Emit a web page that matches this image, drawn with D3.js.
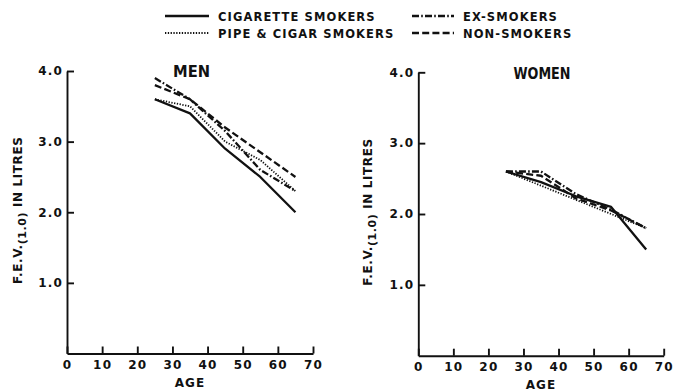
<!DOCTYPE html>
<html>
<head>
<meta charset="utf-8">
<script src="https://cdn.jsdelivr.net/npm/d3@7/dist/d3.min.js"></script>
<style>
  html, body { margin: 0; padding: 0; background: #fff; }
  svg { display: block; }
  text { font-family: "DejaVu Sans", sans-serif; font-weight: bold; fill: #111; }
</style>
</head>
<body>
<svg id="chart" width="675" height="392"></svg>
<script>
// Ages at which mean FEV(1.0) was measured
const ages = [25, 35, 45, 55, 65];

// Smoking groups, in legend order
const groups = ["CIGARETTE SMOKERS", "PIPE & CIGAR SMOKERS", "EX-SMOKERS", "NON-SMOKERS"];

// Mean FEV(1.0) in litres, men
const menCigarette = [3.6, 3.4, 2.9, 2.5, 2.0];
const menPipeCigar = [3.6, 3.5, 3.0, 2.74, 2.3];
const menEx        = [3.9, 3.6, 3.15, 2.6, 2.3];
const menNon       = [3.8, 3.6, 3.2, 2.85, 2.5];

// Mean FEV(1.0) in litres, women
const womenCigarette = [2.6, 2.45, 2.25, 2.1, 1.5];
const womenPipeCigar = [2.6, 2.4, 2.2, 2.0, 1.8];
const womenEx        = [2.6, 2.6, 2.28, 2.06, 1.8];
const womenNon       = [2.6, 2.54, 2.22, 2.05, 1.8];

// Axis ticks
const ageTicks = [0, 10, 20, 30, 40, 50, 60, 70];
const fevTicks = [1, 2, 3, 4];

// Line style per group
const styles = {
  "CIGARETTE SMOKERS":    { dash: null,            width: 2.3 },
  "PIPE & CIGAR SMOKERS": { dash: "1.3,1.5",       width: 1.8 },
  "EX-SMOKERS":           { dash: "7,2.2,1.6,2.2", width: 2.3 },
  "NON-SMOKERS":          { dash: "7,3.2",         width: 2.3 }
};

const panels = [
  { title: "MEN",   x0: 67,    x1: 313,   yBottom: 353.5, yTop: 71,
    titleX: 191.5, titleY: 77, titleLen: 37, labelX: 22,
    series: [menCigarette, menPipeCigar, menEx, menNon] },
  { title: "WOMEN", x0: 418.3, x1: 663.7, yBottom: 355.7, yTop: 72.3,
    titleX: 542, titleY: 79, titleLen: 57, labelX: 372,
    series: [womenCigarette, womenPipeCigar, womenEx, womenNon] }
];

const svg = d3.select("#chart");
const ink = "#111";

function styleAxis(ax) {
  ax.select(".domain").attr("stroke", ink).attr("stroke-width", 1.9);
  ax.selectAll(".tick line").attr("stroke", ink).attr("stroke-width", 1.9);
  ax.selectAll(".tick text").attr("font-size", 12).attr("letter-spacing", 1.2)
    .attr("font-family", "DejaVu Sans").attr("font-weight", "bold").attr("fill", ink);
}

panels.forEach(p => {
  const x = d3.scaleLinear().domain([0, 70]).range([p.x0, p.x1]);
  const y = d3.scaleLinear().domain([0, 4]).range([p.yBottom, p.yTop]);
  const g = svg.append("g");

  // Y axis with inward ticks
  const yAxis = g.append("g")
    .attr("transform", `translate(${p.x0},0)`)
    .call(d3.axisLeft(y).tickValues(fevTicks).tickFormat(d3.format(".1f"))
      .tickSizeInner(-7).tickSizeOuter(0).tickPadding(4));
  styleAxis(yAxis);

  // X axis with inward ticks
  const xAxis = g.append("g")
    .attr("transform", `translate(0,${p.yBottom})`)
    .call(d3.axisBottom(x).tickValues(ageTicks).tickFormat(d3.format("d"))
      .tickSizeInner(-7).tickSizeOuter(0).tickPadding(7));
  styleAxis(xAxis);

  // Axis titles
  g.append("text")
    .attr("x", (p.x0 + p.x1) / 2).attr("y", p.yBottom + 33)
    .attr("text-anchor", "middle").attr("font-size", 12).attr("letter-spacing", 1)
    .text("AGE");

  const yl = g.append("text")
    .attr("transform", `translate(${p.labelX},${(p.yTop + p.yBottom) / 2 - 2}) rotate(-90)`)
    .attr("text-anchor", "middle").attr("font-size", 12).attr("letter-spacing", 0.6);
  yl.append("tspan").text("F.E.V.");
  yl.append("tspan").attr("dy", 3.5).attr("font-size", 11).text("(1.0)");
  yl.append("tspan").attr("dy", -3.5).text(" IN LITRES");

  // Panel title
  g.append("text")
    .attr("x", p.titleX).attr("y", p.titleY)
    .attr("text-anchor", "middle").attr("font-size", 15)
    .attr("textLength", p.titleLen).attr("lengthAdjust", "spacingAndGlyphs")
    .text(p.title);

  // Series lines
  const line = d3.line().x((d, i) => x(ages[i])).y(d => y(d));
  groups.forEach((name, k) => {
    const s = styles[name];
    g.append("path")
      .datum(p.series[k])
      .attr("d", line)
      .attr("fill", "none")
      .attr("stroke", ink)
      .attr("stroke-width", s.width)
      .attr("stroke-linejoin", "round")
      .attr("stroke-dasharray", s.dash);
  });
});

// Legend: two columns, two rows
const legendItems = [
  { name: "CIGARETTE SMOKERS",    lx: 165, tx: 218, y: 16 },
  { name: "PIPE & CIGAR SMOKERS", lx: 165, tx: 218, y: 33 },
  { name: "EX-SMOKERS",           lx: 412, tx: 463, y: 16 },
  { name: "NON-SMOKERS",          lx: 412, tx: 463, y: 33 }
];
const legend = svg.append("g");
legendItems.forEach(it => {
  const s = styles[it.name];
  legend.append("line")
    .attr("x1", it.lx).attr("x2", it.tx - 9)
    .attr("y1", it.y).attr("y2", it.y)
    .attr("stroke", ink).attr("stroke-width", s.width)
    .attr("stroke-dasharray", s.dash);
  legend.append("text")
    .attr("x", it.tx).attr("y", it.y + 4.5)
    .attr("font-size", 11.5).attr("letter-spacing", 1.1)
    .text(it.name);
});
</script>
</body>
</html>
